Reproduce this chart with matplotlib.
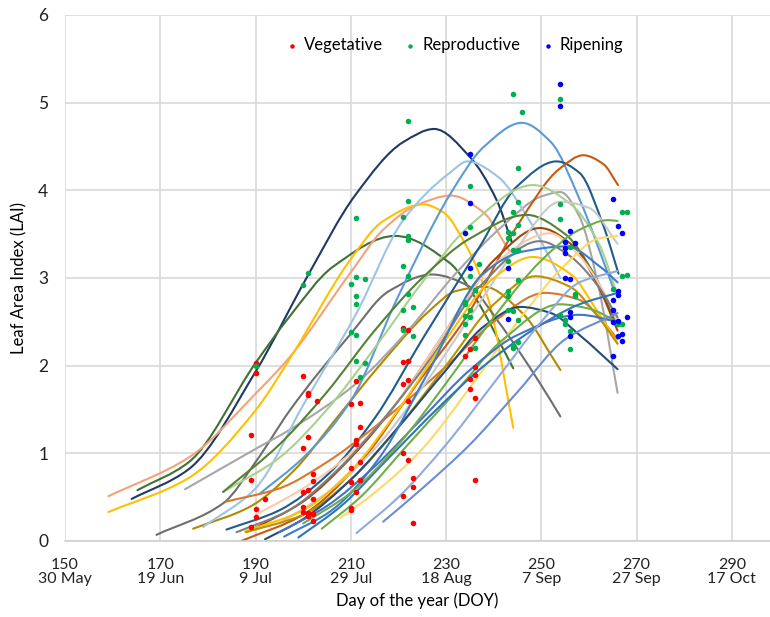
import numpy as np
import matplotlib
matplotlib.use("Agg")
import matplotlib.pyplot as plt
from matplotlib.path import Path
from matplotlib.patches import PathPatch

plt.rcParams['font.family'] = ['Lato', 'DejaVu Sans']

# tick positions and date labels
doy_ticks = [150, 170, 190, 210, 230, 250, 270, 290]
date_labels = ['30 May', '19 Jun', '9 Jul', '29 Jul', '18 Aug', '7 Sep', '27 Sep', '17 Oct']

# measured LAI, by growth stage (day of year, LAI)
veg_doy = [190, 190, 189, 189, 190, 190, 189, 192,
           200, 201, 201, 203, 201, 200, 202, 202, 200, 201, 202, 200, 200, 201, 201, 202, 202,
           211, 210, 212, 212, 211, 211, 212, 210, 210, 212, 211, 210, 210,
           221, 222, 221, 222, 222, 221, 222, 221, 222, 223, 223, 221, 223,
           236, 235, 234, 236, 236, 235, 235, 236, 236]
veg_lai = [2.03, 1.92, 1.21, 0.70, 0.37, 0.27, 0.16, 0.48,
           1.88, 1.69, 1.67, 1.60, 1.19, 1.06, 0.76, 0.68, 0.56, 0.58, 0.48, 0.39, 0.33, 0.32, 0.29, 0.31, 0.23,
           1.83, 1.56, 1.57, 1.30, 1.15, 1.11, 0.90, 0.83, 0.67, 0.69, 0.56, 0.38, 0.35,
           2.43, 2.41, 2.04, 2.05, 1.84, 1.79, 1.60, 1.00, 0.92, 0.72, 0.62, 0.51, 0.20,
           2.32, 2.19, 2.11, 1.98, 1.89, 1.85, 1.73, 1.63, 0.70]

rep_doy = [190, 200, 201,
           211, 222, 222, 221, 222, 222, 221, 222, 211, 213, 210, 211, 211, 222, 223, 221, 221, 223,
           210, 211, 211, 213, 212,
           235, 235, 237, 235, 236, 234, 234, 235, 234, 235, 234, 234, 236,
           244, 246, 245, 245, 244, 243, 244, 245, 243, 244, 245, 243, 245, 243, 243, 244, 243, 245,
           244, 245, 244,
           254, 254, 254, 256, 257, 257, 254, 255, 255, 256, 256,
           267, 268, 267, 268, 265, 266, 267]
rep_lai = [2.00, 2.92, 3.06,
           3.68, 4.79, 3.88, 3.70, 3.48, 3.43, 3.14, 3.02, 3.01, 2.99, 2.93, 2.79, 2.70, 2.82, 2.67, 2.64, 2.41, 2.34,
           2.38, 2.35, 2.05, 2.03, 1.87,
           4.05, 3.58, 3.16, 3.02, 2.86, 2.73, 2.70, 2.63, 2.57, 2.55, 2.47, 2.35, 2.20,
           5.10, 4.89, 4.26, 3.87, 3.75, 3.53, 3.51, 3.61, 3.46, 3.32, 3.32, 3.19, 2.98, 2.85, 2.79, 2.62, 2.63, 2.52,
           2.23, 2.27, 2.20,
           5.04, 3.84, 3.67, 3.35, 2.82, 2.79, 2.58, 2.52, 2.47, 2.40, 2.19,
           3.75, 3.75, 3.02, 3.03, 2.88, 2.48, 2.48]

rip_doy = [235, 235, 234, 235, 243, 243,
           254, 254, 256, 255, 255, 255, 257, 255, 256, 256, 256, 256,
           265, 266, 267, 266, 266, 265, 265, 265, 266, 268, 266, 267, 267, 265]
rip_lai = [4.42, 3.85, 3.51, 3.11, 3.11, 2.53,
           5.21, 4.96, 3.54, 3.41, 3.34, 3.29, 3.40, 3.00, 2.99, 2.61, 2.56, 2.34,
           3.90, 3.59, 3.51, 2.85, 2.81, 2.75, 2.63, 2.50, 2.51, 2.56, 2.34, 2.36, 2.28, 2.11]

# fitted LAI curves: (colour, days, LAI)
curves = [
    ('#1F3864', [164, 176, 190, 200.7, 211, 221, 227.5, 235, 240.6, 243.8],
     [0.48, 0.82, 1.93, 3.00, 3.95, 4.55, 4.70, 4.38, 3.89, 3.41]),
    ('#3F7232', [165.2, 176, 190, 197, 206.3, 219.3, 230.8, 236.4, 244.1],
     [0.58, 0.90, 2.03, 2.55, 3.13, 3.48, 3.17, 2.75, 1.97]),
    ('#F4A27A', [159.1, 176.2, 190, 197.2, 209.8, 216.8, 223.8, 231, 237.8, 243.4],
     [0.51, 0.96, 1.68, 2.10, 3.05, 3.55, 3.83, 3.94, 3.75, 3.30]),
    ('#FFC000', [159.1, 176, 190, 198, 209.8, 216.8, 225.2, 229.4, 234.3, 238.9, 244.1],
     [0.33, 0.72, 1.49, 2.15, 3.20, 3.65, 3.84, 3.75, 3.36, 2.75, 1.29]),
    ('#6E6E6E', [169.2, 183.2, 190, 197.2, 209.8, 218, 227, 235, 241, 249.7, 254],
     [0.07, 0.43, 0.90, 1.49, 2.35, 2.85, 3.04, 2.90, 2.50, 1.80, 1.42]),
    ('#B08A00', [176.9, 188.8, 198, 206.7, 216, 226.6, 232, 238, 246, 254],
     [0.14, 0.39, 0.80, 1.38, 2.00, 2.63, 2.85, 2.90, 2.60, 1.95]),
    ('#A6A6A6', [175.2, 190, 197.2, 211.2, 222, 232, 242, 250, 254, 258, 262, 266],
     [0.59, 1.05, 1.27, 1.80, 2.40, 3.05, 3.60, 3.93, 3.98, 3.70, 2.90, 1.69]),
    ('#9DC3E6', [179, 190, 200, 211.2, 221, 230.8, 234.5, 241, 247, 254],
     [0.16, 0.60, 1.55, 2.60, 3.66, 4.20, 4.33, 4.15, 3.70, 3.00]),
    ('#5B9BD5', [190.9, 200, 210, 219.6, 230.8, 238, 245.9, 252, 258, 265],
     [0.54, 0.95, 1.60, 2.75, 3.95, 4.50, 4.77, 4.55, 3.90, 2.90]),
    ('#1F5C8B', [183.9, 195, 205, 215, 225, 237.1, 244.8, 253.2, 258, 263, 266.2],
     [0.13, 0.35, 0.75, 1.40, 2.30, 3.36, 4.04, 4.33, 4.20, 3.60, 3.05]),
    ('#C55A11', [187, 200, 212, 224, 234.3, 245, 253.9, 258.8, 263, 266.1],
     [0.00, 0.30, 0.90, 1.80, 2.56, 3.60, 4.25, 4.40, 4.30, 4.06]),
    ('#D9782D', [183.9, 195, 205, 215, 230.8, 240, 250.8, 258, 263, 266],
     [0.45, 0.60, 0.90, 1.30, 2.03, 2.50, 2.83, 2.75, 2.50, 2.30]),
    ('#A9D18E', [183.2, 195, 205, 215, 225, 235, 248.3, 256, 262, 266],
     [0.56, 0.95, 1.50, 2.20, 2.95, 3.60, 4.06, 3.85, 3.40, 2.80]),
    ('#548235', [183.2, 195, 205, 215, 225, 235, 246.9, 255, 261, 266],
     [0.56, 1.10, 1.70, 2.40, 3.00, 3.45, 3.72, 3.50, 3.05, 2.45]),
    ('#9E480E', [190, 200, 210, 220, 230, 240, 249.7, 257, 262, 266],
     [0.15, 0.45, 0.95, 1.60, 2.40, 3.20, 3.57, 3.35, 2.90, 2.40]),
    ('#F8CBAD', [190.1, 200, 210, 220, 230, 240, 251.8, 258, 263, 266],
     [0.30, 0.60, 1.00, 1.60, 2.40, 3.15, 3.51, 3.25, 2.85, 2.50]),
    ('#7F7F7F', [186, 197, 207, 217, 227, 237, 249.7, 256, 262, 266],
     [0.10, 0.35, 0.80, 1.40, 2.10, 2.90, 3.42, 3.25, 2.90, 2.55]),
    ('#C9C9C9', [195, 205, 215, 225, 235, 245, 254, 260, 266],
     [0.20, 0.55, 1.05, 1.75, 2.55, 3.35, 3.87, 3.80, 3.39]),
    ('#FFD966', [207.7, 215, 225, 235, 245, 255, 262, 266],
     [0.26, 0.55, 1.05, 1.75, 2.50, 3.15, 3.45, 3.48]),
    ('#FFC000', [187.8, 200, 210, 220, 230, 240, 248.2, 256, 262, 266],
     [0.11, 0.35, 0.80, 1.50, 2.30, 3.00, 3.24, 3.05, 2.60, 2.25]),
    ('#BF9000', [188, 200, 210, 220, 230, 240, 248.7, 256, 262, 266],
     [0.10, 0.30, 0.70, 1.30, 2.00, 2.70, 3.02, 2.90, 2.55, 2.25]),
    ('#1F4E79', [192, 200, 210, 220, 230, 238, 245.6, 252, 258, 266],
     [0.02, 0.25, 0.70, 1.30, 1.95, 2.45, 2.67, 2.60, 2.35, 1.96]),
    ('#70AD47', [203.9, 212, 222, 232, 242, 253.9, 260, 266],
     [0.14, 0.50, 1.10, 1.70, 2.30, 2.70, 2.65, 2.50]),
    ('#2E75B6', [199, 208, 218, 228, 238, 248, 258, 266],
     [0.04, 0.40, 0.95, 1.50, 2.00, 2.40, 2.70, 2.83]),
    ('#3A7DC9', [196, 206, 216, 226, 237.8, 246, 255.3, 262.3, 266],
     [0.05, 0.35, 0.95, 1.90, 3.05, 3.30, 3.36, 3.13, 2.95]),
    ('#4472C4', [195, 205, 215, 225, 235, 245, 258, 266],
     [0.10, 0.40, 0.85, 1.40, 1.95, 2.35, 2.58, 2.50]),
    ('#8FAADC', [211.2, 220, 230, 240, 250, 258, 266],
     [0.09, 0.50, 1.10, 1.80, 2.50, 2.95, 3.08]),
    ('#6A8ED0', [216.8, 225, 235, 245, 255, 266],
     [0.22, 0.60, 1.10, 1.70, 2.30, 2.60]),
    ('#70AD47', [200, 210, 220, 230, 240, 250, 258, 264, 266],
     [0.20, 0.55, 1.10, 1.80, 2.55, 3.20, 3.55, 3.66, 3.65]),
]


def smooth_path(days, lai):
    # smoothed line through the read points (shape-preserving cubic bezier segments)
    x = np.asarray(days, float)
    y = np.asarray(lai, float)
    h = np.diff(x)
    d = np.diff(y) / h
    m = np.zeros_like(y)
    m[0], m[-1] = d[0], d[-1]
    for i in range(1, len(x) - 1):
        if d[i - 1] * d[i] > 0:
            w1 = 2 * h[i] + h[i - 1]
            w2 = h[i] + 2 * h[i - 1]
            m[i] = (w1 + w2) / (w1 / d[i - 1] + w2 / d[i])
    verts = [(x[0], y[0])]
    codes = [Path.MOVETO]
    for i in range(len(x) - 1):
        verts += [(x[i] + h[i] / 3, y[i] + m[i] * h[i] / 3),
                  (x[i + 1] - h[i] / 3, y[i + 1] - m[i + 1] * h[i] / 3),
                  (x[i + 1], y[i + 1])]
        codes += [Path.CURVE4] * 3
    return Path(verts, codes)


fig = plt.figure(figsize=(7.7, 6.17), dpi=100)
ax = fig.add_axes([0.0844, 0.1232, 0.9156, 0.8525])

for color, days, lai in curves:
    ax.add_patch(PathPatch(smooth_path(days, lai), fill=False, edgecolor=color, lw=1.5,
                           capstyle='round', zorder=2))

ax.scatter(veg_doy, veg_lai, s=16, color='#FF0000', zorder=3, label='Vegetative', linewidths=0)
ax.scatter(rep_doy, rep_lai, s=16, color='#00B050', zorder=3, label='Reproductive', linewidths=0)
ax.scatter(rip_doy, rip_lai, s=16, color='#0000FF', zorder=3, label='Ripening', linewidths=0)

ax.set_xlim(150, 298)
ax.set_ylim(0, 6)
ax.set_xticks(doy_ticks)
ax.set_xticklabels([f'{d}\n{lab}' for d, lab in zip(doy_ticks, date_labels)], linespacing=1.0)
ax.set_yticks(range(0, 7))
ax.tick_params(axis='both', length=0, labelsize=12.5, colors='#222222')
ax.tick_params(axis='x', pad=12, labelsize=11.5)
ax.tick_params(axis='y', pad=12)
ax.grid(True, color='#D9D9D9', lw=1.2)
ax.set_axisbelow(True)
for side in ['top', 'right', 'left']:
    ax.spines[side].set_visible(False)
ax.spines['bottom'].set_color('#D0D0D0')
ax.spines['bottom'].set_linewidth(1.2)

ax.set_xlabel('Day of the year (DOY)', fontsize=12, labelpad=5)
ax.set_ylabel('Leaf Area Index (LAI)', fontsize=12, labelpad=8)

ax.legend(loc='center', bbox_to_anchor=(0.552, 0.943), ncol=3, frameon=False,
          fontsize=12, handlelength=0.8, handletextpad=0.3, columnspacing=1.25,
          markerscale=0.8)

fig.savefig('out.png', dpi=100)
